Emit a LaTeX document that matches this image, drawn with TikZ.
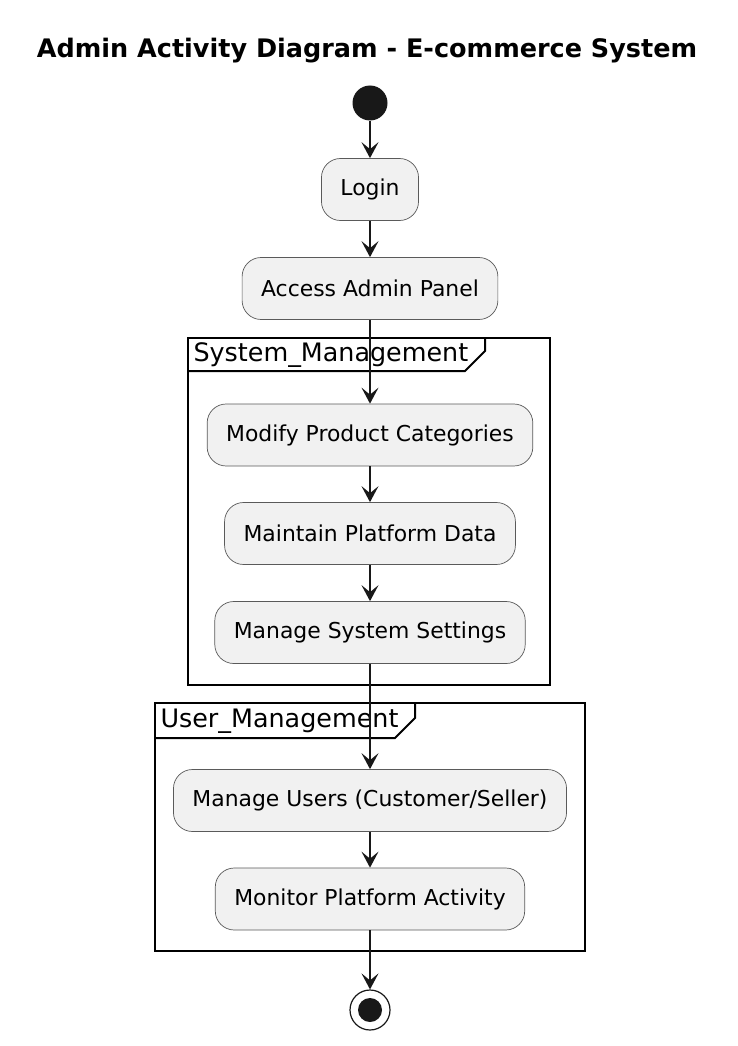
\documentclass[tikz,border=0pt]{standalone}
\usepackage{fontspec}
\setmainfont{DejaVu Sans}
\usepackage{tikz}
\usetikzlibrary{arrows.meta}
\usepackage{xcolor}
\definecolor{colact}{HTML}{F1F1F1}
\definecolor{coledge}{HTML}{181818}
\definecolor{colbord}{HTML}{5A5A5A}

\begin{document}
\begin{tikzpicture}[
  x=1pt, y=-1pt,
  font=\fontsize{21.9}{26}\selectfont,
  act/.style={rectangle,rounded corners=19pt,draw=colbord,line width=0.7pt,
    fill=colact,minimum height=62pt,inner xsep=19pt},
  startdot/.style={circle,fill=coledge,minimum size=35pt,inner sep=0pt},
  stopdot/.style={circle,draw=coledge,line width=1.2pt,fill=white,minimum size=40pt,inner sep=0pt,
    path picture={\fill[coledge] (path picture bounding box.center) circle (12pt);}},
  flow/.style={-{Stealth[length=16pt,width=17pt,inset=7pt]},line width=1.5pt,coledge},
  frame/.style={line width=2pt,black},
  tab/.style={anchor=west,font=\fontsize{25.4}{30}\selectfont},
]
  \useasboundingbox[fill=white] (0,0) rectangle (737,1046);
  % ---------------- titulo ----------------
  \node[font=\bfseries\fontsize{25.5}{30}\selectfont] (title) at (367,51)
    {Admin Activity Diagram - E-commerce System};
  % ---------------- inicio ----------------
  \node[startdot] (start) at (370,103) {};
  \node[act] (login)  at (370,189.5) {Login};
  \node[act] (access) at (370,288.5) {Access Admin Panel};
  % ---------------- System_Management ----------------
  \draw[frame] (188,338) rectangle (550,685);
  \draw[frame] (188,371) -- (465,371) -- (485,351) -- (485,338);
  \node[tab] (systab) at (190,355) {System\_Management};
  \node[act] (modcat)   at (370,435) {Modify Product Categories};
  \node[act] (maindata) at (370,533.5) {Maintain Platform Data};
  \node[act] (sysset)   at (370,632.5) {Manage System Settings};
  % ---------------- User_Management ----------------
  \draw[frame] (155,703) rectangle (585,951);
  \draw[frame] (155,738) -- (395,738) -- (415,718) -- (415,703);
  \node[tab] (usertab) at (157,721) {User\_Management};
  \node[act] (users)   at (370,800.5) {Manage Users (Customer/Seller)};
  \node[act] (monitor) at (370,899) {Monitor Platform Activity};
  % ---------------- fin ----------------
  \node[stopdot] (stop) at (370,1010) {};
  % ---------------- flechas ----------------
  \draw[flow] (start) -- (login);
  \draw[flow] (login) -- (access);
  \draw[flow] (access) -- (modcat);
  \draw[flow] (modcat) -- (maindata);
  \draw[flow] (maindata) -- (sysset);
  \draw[flow] (sysset) -- (users);
  \draw[flow] (users) -- (monitor);
  \draw[flow] (monitor) -- (stop);
\end{tikzpicture}
\end{document}
